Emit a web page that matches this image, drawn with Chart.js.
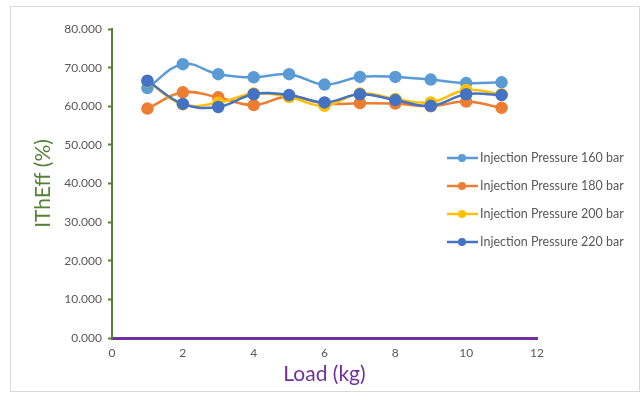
<!DOCTYPE html>
<html>
<head>
<meta charset="utf-8">
<script src="https://cdn.jsdelivr.net/npm/chart.js@4.4.0/dist/chart.umd.min.js"></script>
<style>
  body { margin: 0; background: #fff; }
  #wrap { position: absolute; left: 0; top: 0; width: 642px; height: 395px; }
  #frame { position: absolute; left: 10px; top: 6px; width: 630px; height: 386px; border: 1px solid #d9d9d9; box-sizing: border-box; pointer-events: none; }
</style>
</head>
<body>
<div id="wrap">
  <canvas id="chart" width="642" height="395"></canvas>
  <div id="frame"></div>
</div>
<script>
// load values (kg)
const loads = [1, 2, 3, 4, 5, 6, 7, 8, 9, 10, 11];
const seriesNames = ['Injection Pressure 160 bar', 'Injection Pressure 180 bar', 'Injection Pressure 200 bar', 'Injection Pressure 220 bar'];
const p160 = [64.7, 70.9, 68.3, 67.5, 68.3, 65.6, 67.6, 67.6, 66.9, 66.0, 66.2];
const p180 = [59.4, 63.6, 62.3, 60.3, 62.6, 60.7, 60.8, 60.7, 60.0, 61.2, 59.6];
const p200 = [66.5, 60.5, 60.9, 63.3, 62.4, 60.1, 63.3, 61.9, 61.0, 64.2, 63.1];
const p220 = [66.6, 60.6, 59.8, 63.1, 62.9, 61.0, 63.1, 61.6, 60.1, 63.1, 62.9];
const colors = ['#5B9BD5', '#ED7D31', '#FFC000', '#4472C4'];

const font = "Lato, 'Open Sans', sans-serif";

function pts(vals) {
    return loads.map((x, i) => ({ x: x, y: vals[i] }));
}

function makeSet(i, vals) {
    return {
        label: seriesNames[i],
        data: pts(vals),
        borderColor: colors[i],
        backgroundColor: colors[i],
        pointBackgroundColor: colors[i],
        pointBorderColor: colors[i],
        pointRadius: 5,
        pointHoverRadius: 5,
        borderWidth: 2.5,
        tension: 0.4,
        order: 4 - i
    };
}

// legend drawn inside the plot, like the excel one
const insideLegend = {
    id: 'insideLegend',
    afterDraw(chart) {
        const ctx = chart.ctx;
        ctx.save();
        chart.data.datasets.forEach((ds, i) => {
            const y = 158 + i * 28;
            ctx.strokeStyle = ds.borderColor;
            ctx.lineWidth = 2.5;
            ctx.beginPath();
            ctx.moveTo(447, y);
            ctx.lineTo(478, y);
            ctx.stroke();
            ctx.fillStyle = ds.borderColor;
            ctx.beginPath();
            ctx.arc(462, y, 4, 0, Math.PI * 2);
            ctx.fill();
            ctx.fillStyle = '#595959';
            ctx.font = '12.5px ' + font;
            ctx.textBaseline = 'middle';
            ctx.textAlign = 'left';
            ctx.fillText(ds.label, 480, y);
        });
        ctx.restore();
    }
};

new Chart(document.getElementById('chart'), {
    type: 'line',
    data: {
        datasets: [makeSet(0, p160), makeSet(1, p180), makeSet(2, p200), makeSet(3, p220)]
    },
    options: {
        responsive: false,
        animation: false,
        layout: { padding: { left: 31, right: 105, top: 29, bottom: 8 } },
        plugins: {
            legend: { display: false },
            tooltip: { enabled: false }
        },
        scales: {
            x: {
                type: 'linear',
                min: 0,
                max: 12,
                ticks: { stepSize: 2, color: '#595959', font: { family: font, size: 12 }, padding: 4 },
                grid: { display: false, drawOnChartArea: false, drawTicks: true, tickLength: 4, color: '#7030A0', tickWidth: 2 },
                border: { display: true, color: '#7030A0', width: 3 },
                title: { display: true, text: 'Load (kg)', color: '#7030A0', font: { family: font, size: 21 }, padding: { top: 0, bottom: 0 } },
                afterFit(scale) { scale.height = 49; }
            },
            y: {
                min: 0,
                max: 80,
                ticks: {
                    stepSize: 10,
                    color: '#595959',
                    font: { family: font, size: 12 },
                    padding: 6,
                    callback: v => v.toFixed(3)
                },
                grid: { display: true, drawOnChartArea: false, drawTicks: true, tickLength: 4, color: '#548235', tickWidth: 2 },
                border: { display: true, color: '#548235', width: 2 },
                title: { display: true, text: 'IThEff (%)', color: '#548235', font: { family: font, size: 21 }, padding: { top: 0, bottom: 4 } },
                afterFit(scale) { scale.width = 81; }
            }
        }
    },
    plugins: [insideLegend]
});
</script>
</body>
</html>
